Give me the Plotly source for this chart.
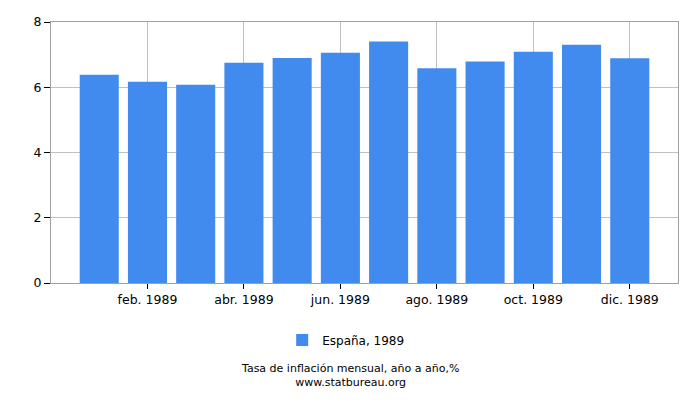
import plotly.graph_objects as go

months = ["ene. 1989", "feb. 1989", "mar. 1989", "abr. 1989", "may. 1989", "jun. 1989",
          "jul. 1989", "ago. 1989", "sep. 1989", "oct. 1989", "nov. 1989", "dic. 1989"]
values = [6.38, 6.17, 6.08, 6.75, 6.90, 7.06, 7.40, 6.58, 6.79, 7.09, 7.30, 6.89]
series_name = "España, 1989"
y_ticks = [0, 2, 4, 6, 8]

fig = go.Figure()
fig.add_trace(go.Bar(x=months, y=values, name=series_name,
                     marker=dict(color="#418BEF", line=dict(width=0)),
                     width=0.81))

# page is drawn with an 8px body margin, so the figure is shrunk by that much
fig.update_layout(
    width=692, height=392,
    margin=dict(l=43, r=22, t=14, b=117),
    paper_bgcolor="white", plot_bgcolor="white",
    font=dict(family="DejaVu Sans", size=12.5, color="black"),
    showlegend=True,
    legend=dict(orientation="h", x=0.47, xanchor="center", y=-0.218, yanchor="middle",
                font=dict(size=12)),
)
fig.update_xaxes(range=[-1, 12], tickvals=months[1::2], ticktext=months[1::2],
                 showgrid=True, gridcolor="#C0C0C0", gridwidth=1,
                 showline=True, linecolor="#A0A0A0", mirror=True,
                 ticks="outside", tickcolor="black", ticklen=5, automargin=False)
fig.update_yaxes(range=[0, 8], tickvals=y_ticks,
                 showgrid=True, gridcolor="#C0C0C0", gridwidth=1,
                 showline=True, linecolor="#A0A0A0", mirror=True,
                 ticks="outside", tickcolor="black", ticklen=6, zeroline=False,
                 automargin=False)

fig.add_annotation(text="Tasa de inflación mensual, año a año,%<br>www.statbureau.org",
                   xref="paper", yref="paper", x=0.477, y=-0.356, yanchor="middle",
                   showarrow=False, font=dict(size=11), align="center", borderpad=0)

fig.write_html("out.html")
